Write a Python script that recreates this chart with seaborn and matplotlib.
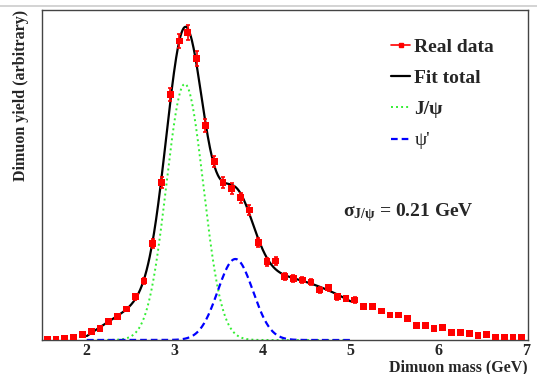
import numpy as np
import matplotlib
matplotlib.use("Agg")
import matplotlib.pyplot as plt
from matplotlib.lines import Line2D
from matplotlib.ticker import MultipleLocator, NullFormatter
import seaborn as sns

# Dimuon invariant-mass histogram: 0.1 GeV bins from 1.5 to 7.0 GeV
bin_centers = np.round(np.arange(1.55, 7.0, 0.1), 2)
yields = [0.03, 0.03, 0.05, 0.08, 0.16, 0.25, 0.35, 0.55, 0.70, 0.93,
          1.30, 1.77, 2.90, 4.73, 7.37, 8.97, 9.22, 8.45, 6.43, 5.35,
          4.73, 4.55, 4.27, 3.90, 2.92, 2.35, 2.37, 1.90, 1.85, 1.80,
          1.74, 1.50, 1.57, 1.30, 1.25, 1.20, 1.00, 1.00, 0.87, 0.75,
          0.75, 0.65, 0.44, 0.44, 0.34, 0.37, 0.23, 0.23, 0.20, 0.13,
          0.16, 0.09, 0.09, 0.09, 0.09]
errors = [0.01, 0.01, 0.02, 0.02, 0.03, 0.04, 0.04, 0.06, 0.06, 0.07,
          0.09, 0.10, 0.13, 0.16, 0.20, 0.22, 0.23, 0.22, 0.19, 0.17,
          0.16, 0.16, 0.15, 0.15, 0.13, 0.12, 0.12, 0.10, 0.10, 0.10,
          0.10, 0.09, 0.09, 0.09, 0.08, 0.08, 0.08, 0.08, 0.07, 0.07,
          0.07, 0.06, 0.05, 0.05, 0.04, 0.05, 0.04, 0.04, 0.03, 0.03,
          0.03, 0.02, 0.02, 0.02, 0.02]

# Resonance shapes (Gaussian: amplitude, mean [GeV], sigma [GeV])
jpsi_amp, jpsi_mean, jpsi_sigma = 7.68, 3.115, 0.21
psi2_amp, psi2_mean, psi2_sigma = 2.43, 3.69, 0.20
fit_range = (2.0, 5.0)
bg_degree = 4

legend_labels = ["Real data", "Fit total", "J/\u03c8", "\u03c8'"]


def gauss(m, amp, mean, sigma):
    return amp * np.exp(-0.5 * ((m - mean) / sigma) ** 2)


mass = np.asarray(bin_centers)
y = np.asarray(yields)
yerr = np.asarray(errors)

# Continuum: polynomial fitted to the data after removing both resonances
sel = (mass > fit_range[0]) & (mass < fit_range[1])
resid = (y[sel] - gauss(mass[sel], jpsi_amp, jpsi_mean, jpsi_sigma)
         - gauss(mass[sel], psi2_amp, psi2_mean, psi2_sigma))
bg_coef = np.polyfit(mass[sel] - 3.5, resid, bg_degree)

m_fit = np.linspace(fit_range[0], fit_range[1], 500)
jpsi_curve = gauss(m_fit, jpsi_amp, jpsi_mean, jpsi_sigma)
psi2_curve = gauss(m_fit, psi2_amp, psi2_mean, psi2_sigma)
total_curve = jpsi_curve + psi2_curve + np.polyval(bg_coef, m_fit - 3.5)

sns.set_style("white")
plt.rcParams["font.family"] = ["Liberation Serif", "DejaVu Serif"]
plt.rcParams["font.weight"] = "bold"

fig = plt.figure(figsize=(5.37, 3.74), dpi=100)
ax = fig.add_axes([42 / 537, 34 / 374, 486 / 537, 330 / 374])

frame_col = "#444444"
green = "#33ee33"

sns.lineplot(x=m_fit, y=jpsi_curve, ax=ax, color=green, linewidth=1.4,
             linestyle=(0, (1, 1.6)), zorder=2)
sns.lineplot(x=m_fit, y=psi2_curve, ax=ax, color="#0000ff", linewidth=1.6,
             linestyle=(0, (3, 1.8)), zorder=2)
sns.lineplot(x=m_fit, y=total_curve, ax=ax, color="black", linewidth=1.6,
             zorder=4)

ax.errorbar(mass, y, yerr=yerr, fmt="none", ecolor="red", elinewidth=1.2,
            capsize=1.6, capthick=1.2, zorder=5)
sns.scatterplot(x=mass, y=y, ax=ax, marker="s", color="red", s=24,
                edgecolor="none", linewidth=0, zorder=6)

ax.set_xlim(1.49, 7.02)
ax.set_ylim(0, 9.9)

for side in ["left", "bottom", "top", "right"]:
    ax.spines[side].set_color(frame_col)
    ax.spines[side].set_linewidth(1.0)

ax.xaxis.set_major_locator(MultipleLocator(1))
ax.xaxis.set_minor_locator(MultipleLocator(0.2))
ax.yaxis.set_major_locator(MultipleLocator(1))
ax.yaxis.set_minor_locator(MultipleLocator(0.25))
ax.yaxis.set_major_formatter(NullFormatter())
ax.tick_params(axis="x", which="major", direction="in", length=7, width=1,
               color=frame_col, labelsize=11.5, pad=2.5)
ax.tick_params(axis="x", which="minor", direction="in", length=3.5, width=1,
               color=frame_col)
ax.tick_params(axis="y", which="major", direction="in", length=11, width=1,
               color=frame_col, labelleft=False)
ax.tick_params(axis="y", which="minor", direction="in", length=6, width=1,
               color=frame_col)
for lab in ax.get_xticklabels():
    lab.set_fontweight("bold")

ax.set_xlabel("Dimuon mass (GeV)", loc="right", fontsize=11.5,
              fontweight="bold")
ax.xaxis.set_label_coords(1.0, -0.058)
ax.set_ylabel("Dimuon yield (arbitrary)", loc="top", fontsize=11.5,
              fontweight="bold", labelpad=6)

handles = [
    Line2D([], [], color="red", linewidth=1.2, marker="s", markersize=3.5),
    Line2D([], [], color="black", linewidth=1.6),
    Line2D([], [], color=green, linewidth=1.4, linestyle=(0, (1, 1.6))),
    Line2D([], [], color="#0000ff", linewidth=1.6, linestyle=(0, (3, 1.8))),
]
leg = ax.legend(handles, legend_labels, loc="upper left",
                bbox_to_anchor=(0.718, 0.915), frameon=False, fontsize=14,
                handlelength=1.0, handletextpad=0.2, labelspacing=0.70,
                borderpad=0, borderaxespad=0)
for t in leg.get_texts():
    t.set_fontweight("bold")
leg.get_texts()[3].set_fontweight("normal")

ax.text(0.619, 0.376, r"$\mathregular{\sigma_{J/\psi}}$ = %.2f GeV" % jpsi_sigma,
        transform=ax.transAxes, fontsize=14, fontweight="bold",
        ha="left", va="baseline")

fig.add_artist(Line2D([0, 1], [368 / 374, 368 / 374], transform=fig.transFigure,
                      color="#cccccc", linewidth=1.2))

fig.savefig("out.png", dpi=100)
